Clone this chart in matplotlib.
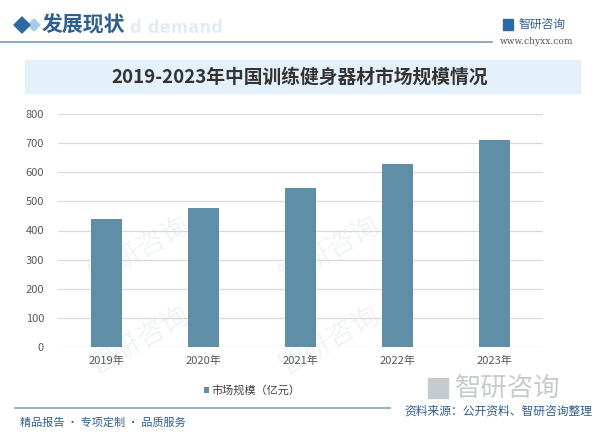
import numpy as np
import matplotlib.pyplot as plt
from matplotlib.patches import Rectangle, Polygon

plt.rcParams['font.family'] = ['Noto Sans CJK SC', 'DejaVu Sans']

# data
years = ["2019年", "2020年", "2021年", "2022年", "2023年"]
market_size = [440, 476, 545, 629, 710]
y_ticks = [0, 100, 200, 300, 400, 500, 600, 700, 800]
title = "2019-2023年中国训练健身器材市场规模情况"
legend_label = "市场规模（亿元）"

W, H = 600, 437
fig = plt.figure(figsize=(6, 4.37), dpi=100)
fig.patch.set_facecolor("white")


def fx(px):
    return px / W


def fy(py):
    return 1 - py / H


# faint watermarks (kept behind the chart)
for (wx, wy) in [(140, 250), (330, 250), (140, 340), (330, 340)]:
    fig.text(fx(wx), fy(wy), "智研咨询", fontsize=20, color="#f1f4f7", rotation=30,
             ha="center", va="center", zorder=0)

# header
fig.patches.append(Polygon([[fx(22), fy(17)], [fx(30), fy(25)], [fx(22), fy(33)], [fx(14), fy(25)]],
                           closed=True, transform=fig.transFigure, color="#2b6aa3", zorder=3))
fig.patches.append(Polygon([[fx(34), fy(19)], [fx(40), fy(25)], [fx(34), fy(31)], [fx(28), fy(25)]],
                           closed=True, transform=fig.transFigure, color="#a9cbe6", zorder=2))
fig.text(fx(130), fy(28), "d demand", fontsize=12, fontweight="bold",
         color="#e4ecf4", ha="left", va="center", family="DejaVu Sans", zorder=1)
fig.text(fx(42), fy(25), "发展现状", fontsize=15, fontweight="bold", color="#2f5f8e",
         ha="left", va="center", zorder=4)
fig.lines.append(plt.Line2D([0, fx(492)], [fy(42), fy(42)], transform=fig.transFigure,
                            color="#7f9bb3", linewidth=1.2))
fig.patches.append(Rectangle((fx(503), fy(30)), fx(10), 11 / H, transform=fig.transFigure,
                             color="#2b6aa3", zorder=3))
fig.text(fx(518), fy(24), "智研咨询", fontsize=8.5, color="#2f5f8e", ha="left", va="center")
fig.text(fx(500), fy(42), "www.chyxx.com", fontsize=6.5, color="#555555", ha="left",
         va="center", family="DejaVu Serif")

# title banner
fig.patches.append(Rectangle((fx(25), fy(93)), fx(555), 33 / H, transform=fig.transFigure,
                             color="#e4f1fb", zorder=1))
fig.text(fx(300), fy(77), title, fontsize=13.5, fontweight="bold", color="#333333",
         ha="center", va="center", zorder=2)

# chart
ax = fig.add_axes([fx(58), fy(347), fx(485), (347 - 114) / H], zorder=2)
ax.set_facecolor("none")
x = np.arange(len(years))
bars = ax.bar(x, market_size, width=0.31, color="#5e8fa7", zorder=3, label=legend_label)
ax.set_xlim(-0.5, len(years) - 0.5)
ax.set_ylim(0, 800)
ax.set_yticks(y_ticks)
ax.set_xticks(x)
ax.set_xticklabels(years)
ax.grid(axis="y", color="#d9d9d9", linewidth=0.9, zorder=0)
for s in ax.spines.values():
    s.set_visible(False)
ax.tick_params(axis="both", length=0, labelsize=8, colors="#595959")
ax.tick_params(axis="y", pad=10)
ax.tick_params(axis="x", pad=6)
ax.legend(loc="upper center", bbox_to_anchor=(fx(252 - 58) / fx(485), -0.12), frameon=False,
          fontsize=8, handlelength=0.5, handleheight=0.5, handletextpad=0.2,
          labelcolor="#404040")

# footer
fig.lines.append(plt.Line2D([fx(15), fx(390)], [fy(408), fy(408)], transform=fig.transFigure,
                            color="#8aa4b8", linewidth=1.2))
fig.text(fx(20), fy(423), "精品报告 · 专项定制 · 品质服务", fontsize=8, color="#2f5f8e",
         ha="left", va="center")
fig.text(fx(455), fy(388), "智研咨询", fontsize=19, color="#c6cbd0", ha="left", va="center")
fig.patches.append(Rectangle((fx(428), fy(398)), fx(20), 20 / H, transform=fig.transFigure,
                             color="#c6cbd0", zorder=1))
fig.text(fx(592), fy(411), "资料来源：公开资料、智研咨询整理", fontsize=8.5, color="#2f5f8e",
         ha="right", va="center")

fig.savefig("out.png", dpi=100)
